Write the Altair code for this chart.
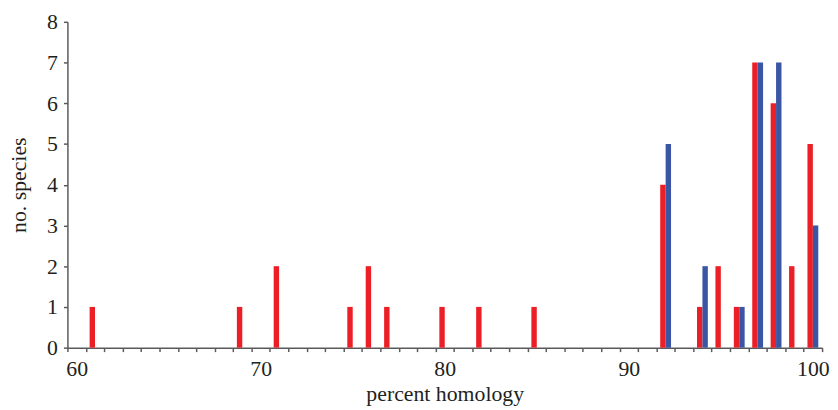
import altair as alt
import pandas as pd

# Data
categories = list(range(60, 101))
red_pct = [61, 69, 71, 75, 76, 77, 80, 82, 85, 92, 94, 95, 96, 97, 98, 99, 100]
red_cnt = [1, 1, 2, 1, 2, 1, 1, 1, 1, 4, 1, 2, 1, 7, 6, 2, 5]
blue_pct = [92, 94, 96, 97, 98, 100]
blue_cnt = [5, 2, 1, 7, 7, 3]
series_names = ["red", "blue"]
series_colors = ["#ed1f26", "#3a55a4"]

df = pd.concat([
    pd.DataFrame({"pct": red_pct, "count": red_cnt, "series": "red"}),
    pd.DataFrame({"pct": blue_pct, "count": blue_cnt, "series": "blue"}),
], ignore_index=True)

FONT = "'Liberation Serif', 'Times New Roman', 'DejaVu Serif', serif"
TXT = "#231f20"
AX = "#5a5a5a"

chart = alt.Chart(df).mark_bar().encode(
    x=alt.X("pct:O",
            scale=alt.Scale(domain=categories, paddingInner=0, paddingOuter=0),
            axis=alt.Axis(title="percent homology", labelAngle=0,
                          labelExpr="datum.value % 10 == 0 ? datum.value : ''",
                          labelOverlap=False, tickBand="extent",
                          tickSize=4, labelPadding=7, titlePadding=4)),
    xOffset=alt.XOffset("series:N",
                        scale=alt.Scale(domain=series_names, paddingOuter=0.7, paddingInner=0)),
    y=alt.Y("count:Q",
            scale=alt.Scale(domain=[0, 8], nice=False),
            axis=alt.Axis(title="no. species", values=list(range(0, 9)),
                          tickSize=4, labelPadding=6, titlePadding=16, grid=False)),
    color=alt.Color("series:N",
                    scale=alt.Scale(domain=series_names, range=series_colors),
                    legend=None),
).properties(
    width=762,
    height=329,
    autosize=alt.AutoSizeParams(type="none"),
    padding={"left": 60, "top": 12, "right": 8, "bottom": 60},
).configure_view(
    stroke=None
).configure_axis(
    labelFont=FONT, titleFont=FONT,
    labelFontSize=22, titleFontSize=22,
    labelColor=TXT, titleColor=TXT,
    titleFontWeight="normal",
    domainColor=AX, tickColor=AX,
    domainWidth=1.5, tickWidth=1.5,
    grid=False,
)

chart.save("out.html", embed_options={"renderer": "svg", "actions": False})
